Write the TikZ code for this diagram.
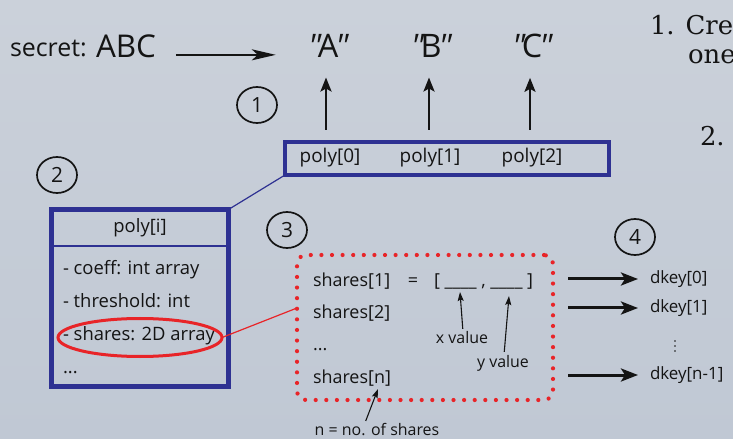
\documentclass[tikz,border=0pt]{standalone}
\usepackage{fontspec}
\setmainfont{Open Sans}
\newfontfamily\qfont[FakeSlant=0.22]{Open Sans}
\newfontfamily\slidefont{DejaVu Serif}
\usetikzlibrary{arrows.meta,shapes.geometric}
\definecolor{navy}{RGB}{46,49,146}
\definecolor{redc}{RGB}{232,36,40}
\definecolor{ink}{RGB}{20,20,20}
\definecolor{bgtop}{RGB}{203,209,218}
\definecolor{bgbot}{RGB}{192,200,212}
\newcommand\myfs[1]{\fontsize{#1}{#1}\selectfont}
\newcommand\quoted[1]{{\qfont"}\kern-1bp #1\kern-5bp{\qfont"}}
\begin{document}
\begin{tikzpicture}[x=1bp,y=-1bp,
  txt/.style={inner sep=0pt, outer sep=0pt, text=ink},
  num/.style={draw=ink, line width=1.7bp, ellipse, minimum width=40bp, minimum height=36bp, inner sep=0pt, outer sep=0pt, text=ink, font=\myfs{21}},
  uparr/.style={-{Stealth[length=14bp,width=11bp,inset=3bp]}, line width=2.4bp, draw=ink},
  secarr/.style={-{Stealth[length=24bp,width=11bp,inset=6bp]}, line width=2bp, draw=ink},
  bigarr/.style={-{Stealth[length=17bp,width=13bp,inset=4bp]}, line width=3bp, draw=ink},
  smallarr/.style={-{Stealth[length=9bp,width=6bp,inset=1.5bp]}, line width=1.1bp, draw=ink},
  navybox/.style={draw=navy, inner sep=0pt, outer sep=0pt},
  dotbox/.style={draw=redc, line width=4.2bp, dash pattern=on 0bp off 10.6bp, line cap=round, rounded corners=9bp, inner sep=0pt, outer sep=0pt}
]
\useasboundingbox (0,0) rectangle (733,439);
\begin{scope}
\clip (0,0) rectangle (733,439);
\shade[top color=bgtop, bottom color=bgbot] (0,0) rectangle (733,439);

% slide text on the right
\node[txt, anchor=base west, font=\slidefont\myfs{26}] (li1) at (650,35) {1. Cre};
\node[txt, anchor=base west, font=\slidefont\myfs{26}] (li1b) at (688,64) {one};
\node[txt, anchor=base west, font=\slidefont\myfs{26}] (li2) at (700,146) {2.};

% top row
\node[txt, anchor=base west, font=\myfs{25}] (secret) at (10,57) {secret:};
\node[txt, anchor=base west, font=\myfs{31.5}] (abc) at (96,57.5) {ABC};
\node[txt, anchor=base, font=\myfs{32.5}] (qa) at (326,57.5) {\quoted{A}};
\node[txt, anchor=base, font=\myfs{32.5}] (qb) at (429,57.5) {\quoted{B}};
\node[txt, anchor=base, font=\myfs{32.5}] (qc) at (530,57.5) {\quoted{C}};
\draw[secarr, shorten <=20bp, shorten >=30bp] (abc.mid east) -- (qa.mid west);

% circled numbers
\node[num] (c1) at (257,105) {1};
\node[num] (c2) at (57,175) {2};
\node[num] (c3) at (287,230) {3};
\node[num] (c4) at (635,237) {4};

% poly array box
\node[navybox, line width=4bp, minimum width=324bp, minimum height=33bp] (polybox) at (447,158.5) {};
\node[txt, font=\myfs{19}] (p0) at (330,158) {poly[0]};
\node[txt, font=\myfs{19}] (p1) at (430,158) {poly[1]};
\node[txt, font=\myfs{19}] (p2) at (532,158) {poly[2]};
\draw[uparr, shorten <=12bp, shorten >=20bp] (qa.south |- polybox.north) -- (qa.south);
\draw[uparr, shorten <=12bp, shorten >=20bp] (qb.south |- polybox.north) -- (qb.south);
\draw[uparr, shorten <=12bp, shorten >=20bp] (qc.south |- polybox.north) -- (qc.south);

% poly[i] class box
\node[navybox, line width=5bp, minimum width=177bp, minimum height=177bp] (polyi) at (140,298) {};
\draw[navy, line width=1.5bp] ([yshift=-36.5bp]polyi.north west) -- ([yshift=-36.5bp]polyi.north east);
\draw[navy, line width=1.2bp] (polybox.south west) -- (polyi.north east);
\node[txt, font=\myfs{18.5}] (hdr) at (140,228) {poly[i]};
\node[txt, anchor=base west, font=\myfs{18.5}] (i1) at (63,275) {- coeff: int array};
\node[txt, anchor=base west, font=\myfs{18.5}] (i2) at (63,308) {- threshold: int};
\node[txt, anchor=base west, font=\myfs{18.5}] (i3) at (63,341) {- shares: 2D array};
\node[txt, anchor=base west, font=\myfs{18.5}] (i4) at (63,373) {...};
\node[draw=redc, line width=3bp, ellipse, minimum width=164bp, minimum height=38bp, inner sep=0pt, outer sep=0pt] (rell) at (140,337.5) {};

% shares box
\node[dotbox, minimum width=256bp, minimum height=145bp] (sharesbox) at (425,327.5) {};
\coordinate (rin) at ([yshift=19.5bp]sharesbox.west);
\draw[redc, line width=1.2bp] (rell.east) -- (rin);
\node[txt, anchor=base west, font=\myfs{18}] (s1) at (313,287) {shares[1]};
\node[txt, anchor=base west, font=\myfs{18}] (s2) at (313,319) {shares[2]};
\node[txt, anchor=base west, font=\myfs{18}] (sd) at (313,351) {...};
\node[txt, anchor=base west, font=\myfs{18}] (sn) at (313,383) {shares[n]};
\node[txt, anchor=base, font=\myfs{18}] (eq) at (413,287) {=};
\node[txt, anchor=base west, font=\myfs{18}] (brk) at (434,287) {[ \_\_\_\_ , \_\_\_\_ ]};
\coordinate (xtip) at (460,292);
\coordinate (ytip) at (509,296);
\coordinate (ntip) at (378,389);
\node[txt, anchor=base, font=\myfs{16}] (xval) at (462,344) {x value};
\node[txt, anchor=base, font=\myfs{16}] (yval) at (503,367) {y value};
\node[txt, anchor=base, font=\myfs{16}] (nlab) at (377,435) {n = no. of shares};
\draw[smallarr, shorten <=3bp] ([xshift=1bp]xval.north) -- (xtip);
\draw[smallarr, shorten <=3bp] ([xshift=1bp]yval.north) -- (ytip);
\draw[smallarr, shorten <=2bp] ([xshift=-12bp]nlab.north) -- (ntip);

% derived keys
\node[txt, anchor=west, font=\myfs{17}] (dk0) at (650,279) {dkey[0]};
\node[txt, anchor=west, font=\myfs{17}] (dk1) at (650,308) {dkey[1]};
\node[txt, anchor=west, font=\myfs{17}] (dkn) at (650,375) {dkey[n-1]};
\foreach \yy in {341,346,351} \fill[ink] (675,\yy) circle (0.9bp);
\draw[bigarr, shorten <=15bp, shorten >=12bp] (sharesbox.east |- dk0.west) -- (dk0.west);
\draw[bigarr, shorten <=15bp, shorten >=12bp] (sharesbox.east |- dk1.west) -- (dk1.west);
\draw[bigarr, shorten <=15bp, shorten >=12bp] (sharesbox.east |- dkn.west) -- (dkn.west);
\end{scope}
\end{tikzpicture}
\end{document}
